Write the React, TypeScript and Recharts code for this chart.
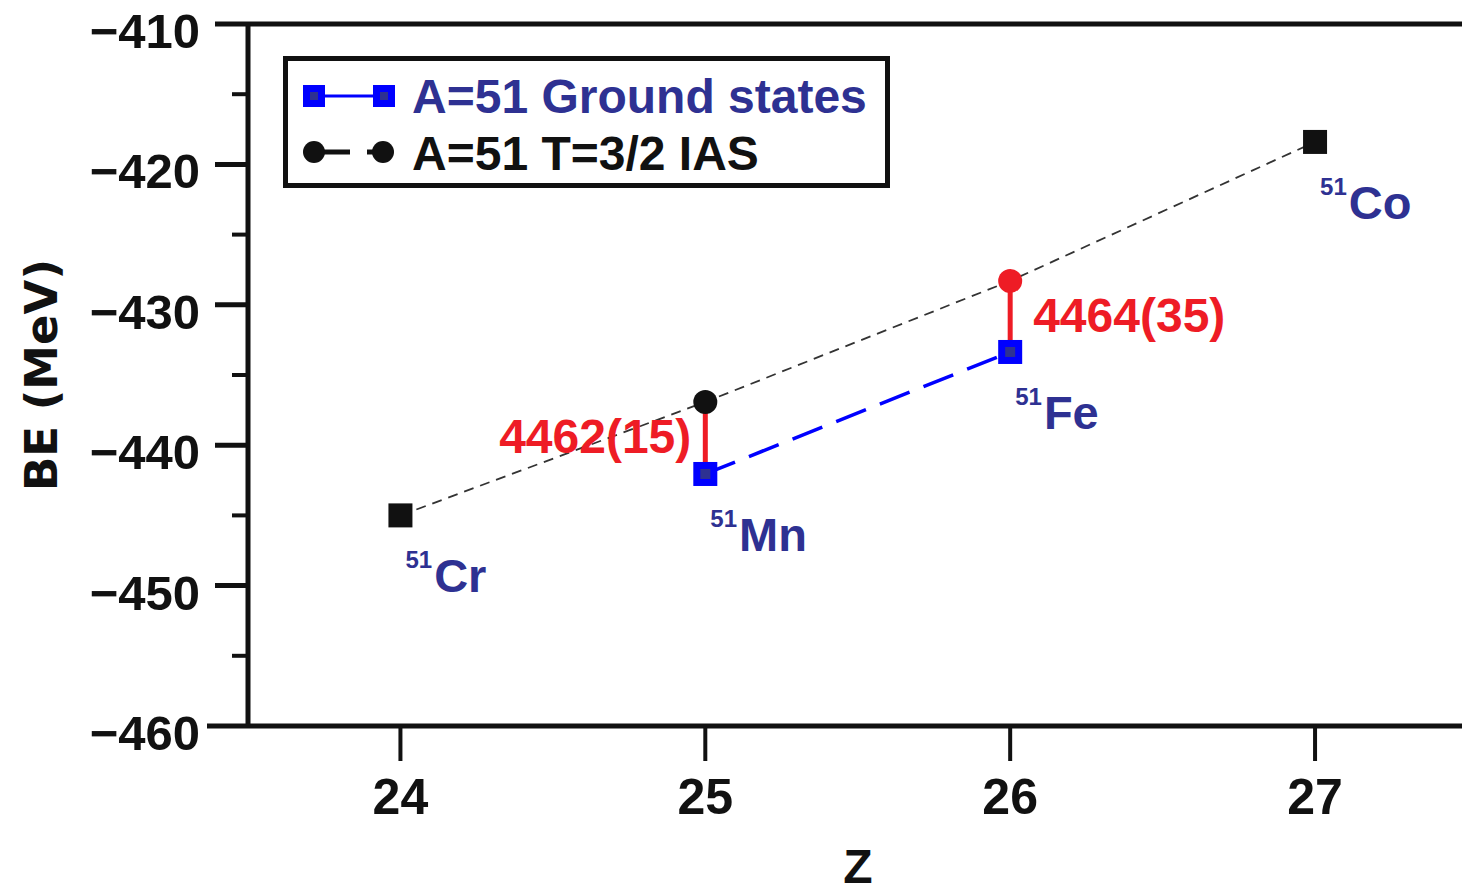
import { ComposedChart, Line, XAxis, YAxis, ReferenceLine } from "recharts";

const FONT = "'Liberation Sans', Arial, Helvetica, sans-serif";
const NAVY = "#2e3192";
const RED = "#ee1c25";
const BLUE = "#0000ff";
const INK = "#111111";

// Ground states of the A=51 chain (MeV).
const Z_VALUES = [24, 25, 26, 27];
const NUCLIDES = ["Cr", "Mn", "Fe", "Co"];
const MASS = 51;
const GROUND_BE = [-445.0, -442.05, -433.36, -418.4];

// T=3/2 isobaric analog states.
const IAS_Z = [25, 26];
const IAS_BE = [-436.92, -428.3];
const IAS_LABELS = ["4462(15)", "4464(35)"];

const X_TICKS = [24, 25, 26, 27];
const Y_MAJOR = [-460, -450, -440, -430, -420, -410];
const Y_MINOR = [-455, -445, -435, -425, -415];

const ground = Z_VALUES.map((z, i) => ({ z, be: GROUND_BE[i], name: NUCLIDES[i] }));
const ias = IAS_Z.map((z, i) => ({ z, be: IAS_BE[i], label: IAS_LABELS[i] }));
// dashed guide: outer ground states joined through the analog states
const chain = [ground[0], ...ias, ground[ground.length - 1]];
const pairedGround = ground.filter((g) => IAS_Z.includes(g.z));
const gaps = ias.map((s) => [s, ground.find((g) => g.z === s.z)!]);

function XTick({ x, y, payload }: any) {
  return (
    <g>
      <line x1={x} x2={x} y1={y} y2={y + 35} stroke={INK} strokeWidth={4} />
      <text x={x} y={y + 88} textAnchor="middle" fontSize={50} fontWeight={700} fontFamily={FONT} fill={INK}>
        {payload.value}
      </text>
    </g>
  );
}

function YTick({ x, y, payload }: any) {
  const v = payload.value;
  const major = Y_MAJOR.includes(v);
  // bottom tick runs on into the x-axis stub, like the original
  const len = v === Y_MAJOR[0] ? 41 : major ? 33 : 16;
  return (
    <g>
      <line x1={x - len} x2={x} y1={y} y2={y} stroke={INK} strokeWidth={major ? 5 : 4} />
      {major && (
        <text x={x - 48} y={y + 24} textAnchor="end" fontSize={49} fontWeight={700} fontFamily={FONT} fill={INK}>
          {`\u2212${Math.abs(v)}`}
        </text>
      )}
    </g>
  );
}

function renderGround(p: any) {
  const { cx, cy, index, payload } = p;
  const paired = IAS_Z.includes(payload.z);
  return (
    <g key={`g${index}`}>
      {paired ? (
        <>
          <rect x={cx - 12} y={cy - 12} width={24} height={24} fill={BLUE} />
          <rect x={cx - 5} y={cy - 5} width={10} height={10} fill={NAVY} />
        </>
      ) : (
        <rect x={cx - 12} y={cy - 12} width={24} height={24} fill={INK} />
      )}
      <text x={cx + 5} y={cy + 53} fill={NAVY} fontWeight={700} fontFamily={FONT}>
        <tspan fontSize={24}>{MASS}</tspan>
        <tspan fontSize={47} dy={24} dx={2}>
          {payload.name}
        </tspan>
      </text>
    </g>
  );
}

function renderIas(p: any) {
  const { cx, cy, index, payload } = p;
  const first = index === 0;
  return (
    <g key={`i${index}`}>
      <circle cx={cx} cy={cy} r={12} fill={first ? INK : RED} />
      <text
        x={first ? cx - 14 : cx + 23}
        y={cy + 51}
        textAnchor={first ? "end" : "start"}
        fontSize={48}
        fontWeight={700}
        fontFamily={FONT}
        fill={RED}
      >
        {payload.label}
      </text>
    </g>
  );
}

function LegendBox() {
  return (
    <div style={{ position: "absolute", left: 283, top: 56 }}>
      <svg width={607} height={132}>
        <rect x={2.5} y={2.5} width={602} height={127} fill="#fff" stroke={INK} strokeWidth={5} />
        <line x1={42} x2={90} y1={40} y2={40} stroke={BLUE} strokeWidth={3} />
        <rect x={20} y={29} width={22} height={22} fill={BLUE} />
        <rect x={27} y={36} width={8} height={8} fill={NAVY} />
        <rect x={90} y={29} width={22} height={22} fill={BLUE} />
        <rect x={97} y={36} width={8} height={8} fill={NAVY} />
        <text x={129} y={57} fontSize={48} fontWeight={700} fontFamily={FONT} fill={NAVY}>
          A=51 Ground states
        </text>
        <line x1={31} x2={67} y1={96} y2={96} stroke={INK} strokeWidth={5} />
        <line x1={84} x2={100} y1={96} y2={96} stroke={INK} strokeWidth={5} />
        <circle cx={31} cy={96} r={11} fill={INK} />
        <circle cx={100} cy={96} r={11} fill={INK} />
        <text x={129} y={114} fontSize={48} fontWeight={700} fontFamily={FONT} fill={INK}>
          A=51 T=3/2 IAS
        </text>
      </svg>
    </div>
  );
}

export default function App() {
  return (
    <div style={{ position: "absolute", left: 0, top: 0, width: 1462, height: 891, background: "#fff" }}>
      <ComposedChart width={1462} height={891} margin={{ top: 24, right: 0, bottom: 0, left: 0 }}>
        <XAxis
          dataKey="z"
          type="number"
          domain={[23.5, 27.482]}
          ticks={X_TICKS}
          interval={0}
          allowDataOverflow
          height={165}
          axisLine={{ stroke: INK, strokeWidth: 5 }}
          tickLine={false}
          tickSize={0}
          tickMargin={0}
          tick={<XTick />}
          label={{
            content: ({ viewBox }: any) => (
              <text
                x={viewBox.x + viewBox.width / 2 + 3}
                y={viewBox.y + 157}
                textAnchor="middle"
                fontSize={48}
                fontWeight={700}
                fontFamily={FONT}
                fill={INK}
              >
                Z
              </text>
            ),
          }}
        />
        <YAxis
          type="number"
          domain={[-460, -410]}
          ticks={[...Y_MAJOR, ...Y_MINOR].sort((a, b) => a - b)}
          interval={0}
          allowDataOverflow
          width={248}
          axisLine={{ stroke: INK, strokeWidth: 5 }}
          tickLine={false}
          tickSize={0}
          tickMargin={0}
          tick={<YTick />}
          label={{
            content: ({ viewBox }: any) => {
              const cx = viewBox.x + 57;
              const cy = viewBox.y + viewBox.height / 2;
              return (
                <text
                  x={cx}
                  y={cy}
                  transform={`rotate(-90 ${cx} ${cy})`}
                  textAnchor="middle"
                  fontSize={45}
                  fontWeight={700}
                  fontFamily="'DejaVu Sans', sans-serif"
                  fill={INK}
                >
                  BE (MeV)
                </text>
              );
            },
          }}
        />
        <ReferenceLine y={-410} stroke={INK} strokeWidth={5} />
        <Line
          data={chain}
          dataKey="be"
          stroke="#333"
          strokeWidth={1.8}
          strokeDasharray="10 7"
          dot={false}
          isAnimationActive={false}
        />
        <Line
          data={pairedGround}
          dataKey="be"
          stroke={BLUE}
          strokeWidth={3.5}
          strokeDasharray="32 15"
          dot={false}
          isAnimationActive={false}
        />
        {gaps.map((seg, i) => (
          <Line
            key={`gap${i}`}
            data={seg}
            dataKey="be"
            stroke={RED}
            strokeWidth={5}
            dot={false}
            isAnimationActive={false}
          />
        ))}
        <Line data={ground} dataKey="be" stroke="none" dot={renderGround} isAnimationActive={false} />
        <Line data={ias} dataKey="be" stroke="none" dot={renderIas} isAnimationActive={false} />
      </ComposedChart>
      <LegendBox />
    </div>
  );
}
